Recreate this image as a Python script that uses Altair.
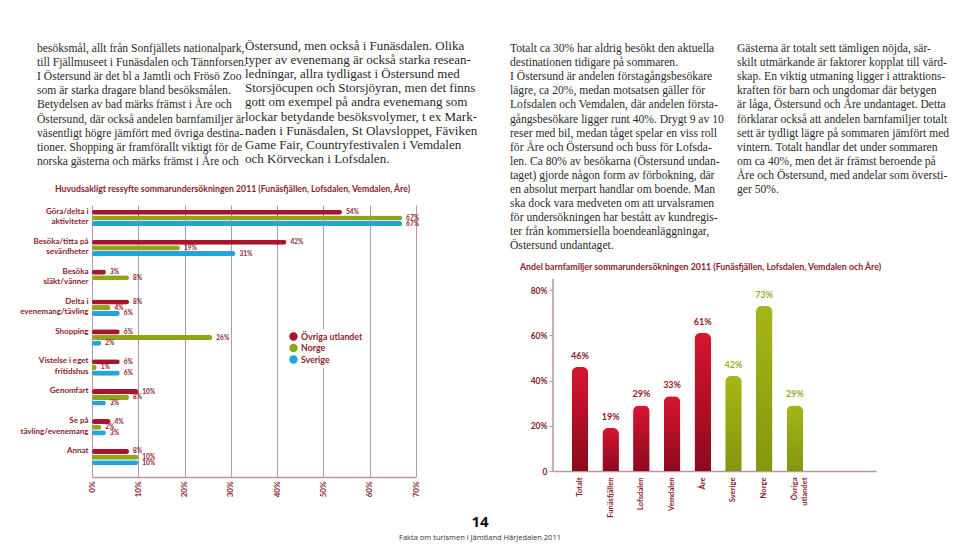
import altair as alt
import pandas as pd

# ---------------- data ----------------
REASONS = [
    "Göra/delta i\naktiviteter",
    "Besöka/titta på\nsevärdheter",
    "Besöka\nsläkt/vänner",
    "Delta i\nevenemang/tävling",
    "Shopping",
    "Vistelse i eget\nfritidshus",
    "Genomfart",
    "Se på\ntävling/evenemang",
    "Annat",
]
SERIES = ["Övriga utlandet", "Norge", "Sverige"]
OVRIGA = [54, 42, 3, 8, 6, 6, 10, 4, 8]
NORGE = [67, 19, 8, 4, 26, 1, 8, 2, 10]
SVERIGE = [67, 31, None, 6, 2, 6, 3, 3, 10]
X_TICKS = [0, 10, 20, 30, 40, 50, 60, 70]
TITLE1 = "Huvudsakligt ressyfte sommarundersökningen 2011 (Funäsfjällen, Lofsdalen, Vemdalen, Åre)"

DEST = ["Totalt", "Funäsfjällen", "Lofsdalen", "Vemdalen", "Åre", "Sverige", "Norge", "Övriga\nutlandet"]
EMPTY_SLOTS = ["pad1", "pad2"]
DEST_GROUP = ["dest", "dest", "dest", "dest", "dest", "origin", "origin", "origin"]
FAMILY = [46, 19, 29, 33, 61, 42, 73, 29]
Y_TICKS = [0, 10, 20, 30, 40, 50, 60, 70, 80]
Y_AXIS_TOP = [85]
TITLE2 = "Andel barnfamiljer sommarundersökningen 2011 (Funäsfjällen, Lofsdalen, Vemdalen och Åre)"

COL1 = [
    "besöksmål, allt från Sonfjällets nationalpark,",
    "till Fjällmuseet i Funäsdalen och Tännforsen.",
    "I Östersund är det bl a Jamtli och Frösö Zoo",
    "som är starka dragare bland besöksmålen.",
    "Betydelsen av bad märks främst i Åre och",
    "Östersund, där också andelen barnfamiljer är",
    "väsentligt högre jämfört med övriga destina-",
    "tioner. Shopping är framförallt viktigt för de",
    "norska gästerna och märks främst i Åre och",
]
COL2 = [
    "Östersund, men också i Funäsdalen. Olika",
    "typer av evenemang är också starka resean-",
    "ledningar, allra tydligast i Östersund med",
    "Storsjöcupen och Storsjöyran, men det finns",
    "gott om exempel på andra evenemang som",
    "lockar betydande besöksvolymer, t ex Mark-",
    "naden i Funäsdalen, St Olavsloppet, Fäviken",
    "Game Fair, Countryfestivalen i Vemdalen",
    "och Körveckan i Lofsdalen.",
]
COL3 = [
    "\u00a0\u00a0\u00a0Totalt ca 30% har aldrig besökt den aktuella",
    "destinationen tidigare på sommaren.",
    "I Östersund är andelen förstagångsbesökare",
    "lägre, ca 20%, medan motsatsen gäller för",
    "Lofsdalen och Vemdalen, där andelen första-",
    "gångsbesökare ligger runt 40%. Drygt 9 av 10",
    "reser med bil, medan tåget spelar en viss roll",
    "för Åre och Östersund och buss för Lofsda-",
    "len. Ca 80% av besökarna (Östersund undan-",
    "taget) gjorde någon form av förbokning, där",
    "en absolut merpart handlar om boende. Man",
    "ska dock vara medveten om att urvalsramen",
    "för undersökningen har bestått av kundregis-",
    "ter från kommersiella boendeanläggningar,",
    "Östersund undantaget.",
]
COL4 = [
    "\u00a0\u00a0\u00a0Gästerna är totalt sett tämligen nöjda, sär-",
    "skilt utmärkande är faktorer kopplat till värd-",
    "skap. En viktig utmaning ligger i attraktions-",
    "kraften för barn och ungdomar där betygen",
    "är låga, Östersund och Åre undantaget. Detta",
    "förklarar också att andelen barnfamiljer totalt",
    "sett är tydligt lägre på sommaren jämfört med",
    "vintern. Totalt handlar det under sommaren",
    "om ca 40%, men det är främst beroende på",
    "Åre och Östersund, med andelar som översti-",
    "ger 50%.",
]
PAGE_NO = "14"
FOOTER = "Fakta om turismen i Jämtland Härjedalen 2011"

# ---------------- style ----------------
SANS = "Lato"
SERIF = "Liberation Serif"
DARKRED = "#8c1b2f"
GRID = "#b8979e"
C_OVR = "#a8142b"
C_NOR = "#93a41b"
C_SVE = "#22a5da"
OLIVE_TXT = "#9aaa1e"
BODY = "#2a2a2a"

# ---------------- chart 1 ----------------
rows = []
for i, r in enumerate(REASONS):
    for s, vals in zip(SERIES, [OVRIGA, NORGE, SVERIGE]):
        if vals[i] is not None:
            rows.append({"reason": r, "series": s, "value": vals[i]})
df1 = pd.DataFrame(rows)

y1 = alt.Y(
    "reason:N", sort=REASONS,
    scale=alt.Scale(domain=REASONS, paddingInner=0.45, paddingOuter=0.275, align=0.29),
    axis=alt.Axis(
        title=None, domain=False, ticks=False,
        labelExpr="split(datum.label, '\\n')",
        labelFont=SANS, labelFontWeight="bold", labelFontSize=8, labelColor=DARKRED,
        labelPadding=4, labelBaseline="top", labelOffset=-10, labelLineHeight=10.5,
        labelAlign="right",
    ),
)
yoff1 = alt.YOffset("series:N", sort=SERIES, scale=alt.Scale(domain=SERIES, paddingInner=0.1))
x1 = alt.X(
    "value:Q",
    scale=alt.Scale(domain=[0, 70], nice=False),
    axis=alt.Axis(
        values=X_TICKS, title=None, labelExpr="datum.value + '%'", labelAngle=-90,
        grid=True, gridColor=GRID, gridWidth=1, domainColor=GRID, domainWidth=1.5,
        ticks=False, labelFont=SANS, labelFontWeight="bold", labelFontSize=8,
        labelColor=DARKRED, labelPadding=4,
    ),
)
bars1 = alt.Chart(df1).mark_bar(cornerRadius=2.5).encode(
    x=x1, y=y1, yOffset=yoff1,
    color=alt.Color(
        "series:N", sort=SERIES,
        scale=alt.Scale(domain=SERIES, range=[C_OVR, C_NOR, C_SVE]),
        legend=alt.Legend(
            title=None, orient="none", legendX=194, legendY=124,
            symbolType="circle", symbolSize=70, symbolStrokeWidth=0,
            labelFont=SANS, labelFontWeight="bold", labelFontSize=8.8,
            labelColor=DARKRED, fillColor="white", padding=3, rowPadding=1.5,
            labelOffset=3,
        ),
    ),
)
labels1 = alt.Chart(df1).transform_calculate(label="datum.value + '%'").mark_text(
    align="left", baseline="middle", dx=4, fontSize=6.5, fontWeight="bold",
    font=SANS, color=DARKRED,
).encode(x="value:Q", y=alt.Y("reason:N", sort=REASONS), yOffset=yoff1, text="label:N")

chart1 = alt.layer(bars1, labels1).properties(
    width=324, height=272,
    title=alt.TitleParams(
        text=TITLE1, anchor="start", frame="group", dx=-37, offset=11, fontSize=8.7,
        font=SANS, fontWeight="bold", color=DARKRED,
    ),
)

# ---------------- chart 2 ----------------
df2 = pd.DataFrame({"dest": DEST, "grp": DEST_GROUP, "value": FAMILY})
df2["label"] = [f"{v}%" for v in FAMILY]

x2 = alt.X(
    "dest:N", sort=DEST,
    scale=alt.Scale(domain=DEST + EMPTY_SLOTS, paddingInner=0.46, paddingOuter=0.49, align=0.62),
    axis=alt.Axis(
        values=DEST, title=None, labelAngle=-90, labelExpr="split(datum.label, '\\n')",
        ticks=False, domainColor=GRID, domainWidth=1.5, labelFont=SANS,
        labelFontWeight="bold", labelFontSize=7.6, labelColor=DARKRED,
        labelPadding=6, labelLineHeight=10.5,
    ),
)
y2 = alt.Y(
    "value:Q",
    scale=alt.Scale(domain=[0, 117.6], nice=False),
    axis=alt.Axis(
        values=Y_TICKS, title=None, domain=False, grid=False, tickColor=GRID,
        tickSize=4, labelPadding=2,
        labelExpr="datum.value == 0 ? '0' : datum.value + '%'",
        labelFont=SANS, labelFontWeight="bold", labelFontSize=8.5, labelColor=DARKRED,
    ),
)
red_grad = alt.Gradient(
    gradient="linear",
    stops=[alt.GradientStop(color="#8a0b1d", offset=0), alt.GradientStop(color="#d8142f", offset=1)],
    x1=0, x2=0, y1=1, y2=0,
)
green_grad = alt.Gradient(
    gradient="linear",
    stops=[alt.GradientStop(color="#869510", offset=0), alt.GradientStop(color="#a6b617", offset=1)],
    x1=0, x2=0, y1=1, y2=0,
)
base2 = alt.Chart(df2)
bars2a = base2.transform_filter("datum.grp == 'dest'").mark_bar(
    color=red_grad, cornerRadiusEnd=6).encode(x=x2, y=y2)
bars2b = base2.transform_filter("datum.grp == 'origin'").mark_bar(
    color=green_grad, cornerRadiusEnd=6).encode(x=x2, y=y2)
lab2a = base2.transform_filter("datum.grp == 'dest'").mark_text(
    baseline="bottom", dy=-6, fontSize=9, fontWeight="bold", font=SANS, color=DARKRED,
).encode(x=x2, y=y2, text="label:N")
lab2b = base2.transform_filter("datum.grp == 'origin'").mark_text(
    baseline="bottom", dy=-6, fontSize=9, fontWeight="bold", font=SANS, color=OLIVE_TXT,
).encode(x=x2, y=y2, text="label:N")
axis_line = alt.Chart(pd.DataFrame({"lo": [0], "hi": Y_AXIS_TOP})).mark_rule(
    color=GRID, strokeWidth=1.5).encode(x=alt.value(0), y=alt.Y("lo:Q"), y2="hi:Q")

chart2 = alt.layer(axis_line, bars2a, bars2b, lab2a, lab2b).properties(
    width=323, height=266,
    title=alt.TitleParams(
        text=TITLE2, anchor="start", frame="group", dx=-33, offset=11, dy=78, fontSize=8.8,
        font=SANS, fontWeight="bold", color=DARKRED,
    ),
)

# ---------------- text panel ----------------
def text_block(lines, x, y, size):
    return alt.Chart(pd.DataFrame({"t": ["\n".join(lines)]})).mark_text(
        lineBreak="\n", align="left", baseline="alphabetic", font=SERIF,
        fontSize=size, lineHeight=14.1, color=BODY,
    ).encode(text="t:N", x=alt.value(x), y=alt.value(y))

page_no = alt.Chart(pd.DataFrame({"t": [PAGE_NO]})).mark_text(
    align="center", baseline="alphabetic", font="Open Sans", fontWeight="bold",
    fontSize=15, color="#111111",
).encode(text="t:N", x=alt.value(472), y=alt.value(519))
footer = alt.Chart(pd.DataFrame({"t": [FOOTER]})).mark_text(
    align="center", baseline="alphabetic", font="Open Sans", fontSize=7.5,
    color="#333333",
).encode(text="t:N", x=alt.value(472), y=alt.value(532))

text_panel = alt.layer(
    text_block(COL1, 29, 44, 11.6),
    text_block(COL2, 237, 42, 13),
    text_block(COL3, 502, 44, 11.6),
    text_block(COL4, 729, 44, 11.6),
    page_no, footer,
).properties(width=84, height=197)


def spacer(w, h=1):
    return alt.Chart(pd.DataFrame({"a": [0]})).mark_point(opacity=0, size=0).encode(
        x=alt.value(0), y=alt.value(0)).properties(width=w, height=h)


chart = alt.concat(
    text_panel, spacer(324), spacer(137), spacer(323),
    spacer(84), chart1, spacer(137), chart2,
    columns=4, spacing=0, bounds="flush",
).resolve_scale(color="independent").resolve_legend(color="independent").properties(
    padding=0, background="white"
).configure_view(strokeWidth=0)

chart.save("out.html", embed_options={"renderer": "svg", "actions": False})
